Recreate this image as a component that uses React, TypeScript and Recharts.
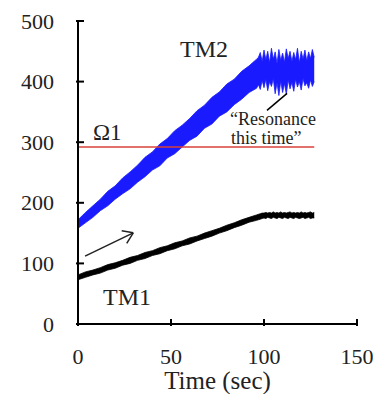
import React from "react";
import {
  ComposedChart,
  Area,
  Line,
  XAxis,
  YAxis,
  ReferenceLine,
} from "recharts";

// time (sec) of each reading
const time = [
  0, 4, 8, 12, 16, 20, 24, 28, 32, 36, 40, 44, 48, 52, 56, 60, 64, 68, 72, 76,
  80, 84, 88, 92, 96, 97, 98, 99, 100, 101, 102, 103, 104, 105, 106, 107, 108,
  109, 110, 111, 112, 113, 114, 115, 116, 117, 118, 119, 120, 121, 122, 123,
  124, 125, 126, 127,
];

// TM2 band (lower / upper edge of the noisy trace)
const tm2Low = [
  158, 167, 176, 187, 195, 206, 215, 223, 234, 243, 254, 261, 274, 281, 292,
  303, 310, 323, 330, 343, 350, 362, 371, 382, 389, 395, 387, 402, 390, 404,
  385, 400, 392, 405, 380, 398, 377, 401, 382, 397, 379, 403, 388, 399, 384,
  404, 391, 400, 386, 405, 393, 398, 389, 403, 392, 400,
];
const tm2High = [
  172, 184, 195, 206, 219, 228, 241, 251, 262, 275, 284, 297, 306, 319, 328,
  339, 352, 361, 374, 383, 396, 404, 417, 426, 437, 440, 448, 433, 452, 436,
  450, 431, 455, 437, 449, 430, 453, 435, 447, 432, 454, 438, 450, 433, 448,
  436, 455, 431, 450, 437, 452, 434, 449, 438, 453, 440,
];

// TM1 band
const tm1Low = [
  73, 77, 81, 84, 89, 92, 97, 100, 105, 108, 113, 116, 121, 124, 129, 132, 137,
  141, 145, 150, 154, 159, 163, 168, 171, 172, 173, 174, 175, 174, 176, 175,
  174, 176, 175, 174, 176, 175, 174, 176, 175, 174, 176, 175, 174, 176, 175,
  174, 175, 176, 174, 175, 176, 174, 175, 175,
];
const tm1High = [
  81, 86, 89, 93, 98, 101, 105, 110, 113, 118, 121, 126, 129, 134, 137, 142,
  145, 150, 154, 158, 163, 167, 172, 176, 180, 181, 182, 183, 183, 184, 183,
  184, 183, 185, 183, 184, 183, 185, 183, 184, 183, 184, 185, 183, 184, 183,
  184, 183, 185, 183, 184, 183, 184, 185, 183, 184,
];

// Omega1 level
const omegaTime = [0, 127];
const omegaValue = [292, 292];

const xTicks = [0, 50, 100, 150];
const yTicks = [0, 100, 200, 300, 400, 500];
const rightTicks = [100, 200, 300, 400];

const data = time.map((t, i) => ({
  t,
  tm2: [tm2Low[i], tm2High[i]],
  tm1: [tm1Low[i], tm1High[i]],
}));
const omegaData = omegaTime.map((t, i) => ({ t, v: omegaValue[i] }));

const FONT = '"Liberation Serif", "Times New Roman", serif';

const LeftTick = (props: any) => {
  const { x, y, payload } = props;
  return (
    <g>
      <text x={x - 22} y={y + 7.5} textAnchor="end" fontSize={22} fontFamily={FONT} fill="#222">
        {payload.value}
      </text>
      <line x1={x} y1={y} x2={x + 8} y2={y} stroke="#000" strokeWidth={2} />
    </g>
  );
};

const BottomTick = (props: any) => {
  const { x, y, payload } = props;
  return (
    <g>
      <text x={x} y={y + 38} textAnchor="middle" fontSize={22} fontFamily={FONT} fill="#222">
        {payload.value}
      </text>
      <line x1={x} y1={y} x2={x} y2={y - 7} stroke="#000" strokeWidth={2} />
    </g>
  );
};

const RightTick = (props: any) => {
  const { x, y } = props;
  return <line x1={x} y1={y} x2={x - 8} y2={y} stroke="#000" strokeWidth={2} />;
};

const ids = { xAxisId: "b", yAxisId: "l" };

export default function App() {
  return (
    <div style={{ position: "absolute", left: 0, top: 0, width: 375, height: 394, background: "#fff" }}>
      <ComposedChart width={375} height={394} data={data} margin={{ top: 21, right: 18, bottom: 0, left: 0 }}>
        <XAxis
          xAxisId="b"
          dataKey="t"
          type="number"
          domain={[0, 150]}
          ticks={xTicks}
          interval={0}
          height={70}
          tickSize={0}
          tickLine={false}
          axisLine={{ stroke: "#000", strokeWidth: 2 }}
          tick={<BottomTick />}
          label={(p: any) => (
            <text
              x={p.viewBox.x + p.viewBox.width / 2}
              y={p.viewBox.y + 65}
              textAnchor="middle"
              fontSize={25}
              fontFamily={FONT}
              fill="#222"
            >
              Time (sec)
            </text>
          )}
        />
        <XAxis
          xAxisId="t"
          orientation="top"
          type="number"
          domain={[0, 150]}
          height={0}
          tick={false}
          tickLine={false}
          axisLine={{ stroke: "#000", strokeWidth: 2 }}
        />
        <YAxis
          yAxisId="l"
          type="number"
          domain={[0, 500]}
          ticks={yTicks}
          interval={0}
          width={78}
          tickSize={0}
          tickLine={false}
          axisLine={{ stroke: "#000", strokeWidth: 2 }}
          tick={<LeftTick />}
        />
        <YAxis
          yAxisId="r"
          orientation="right"
          type="number"
          domain={[0, 500]}
          ticks={rightTicks}
          interval={0}
          width={0}
          tickSize={0}
          tickLine={false}
          axisLine={{ stroke: "#000", strokeWidth: 2 }}
          tick={<RightTick />}
        />

        <Area
          {...ids}
          type="linear"
          dataKey="tm2"
          stroke="#1a1aff"
          strokeWidth={0.8}
          fill="#1a1aff"
          fillOpacity={1}
          dot={false}
          activeDot={false}
          isAnimationActive={false}
        />
        <Area
          {...ids}
          type="linear"
          dataKey="tm1"
          stroke="#000"
          strokeWidth={0.8}
          fill="#000"
          fillOpacity={1}
          dot={false}
          activeDot={false}
          isAnimationActive={false}
        />
        <Line
          {...ids}
          data={omegaData}
          dataKey="v"
          type="linear"
          stroke="#d9413a"
          strokeWidth={1.6}
          dot={false}
          activeDot={false}
          isAnimationActive={false}
        />

        {/* arrow */}
        <ReferenceLine {...ids} segment={[{ x: 3.8, y: 112 }, { x: 29.7, y: 150.4 }]} stroke="#222" strokeWidth={1.5} ifOverflow="visible" />
        <ReferenceLine {...ids} segment={[{ x: 23.5, y: 153.7 }, { x: 29.7, y: 150.4 }]} stroke="#222" strokeWidth={1.5} ifOverflow="visible" />
        <ReferenceLine {...ids} segment={[{ x: 26.2, y: 133 }, { x: 29.7, y: 150.4 }]} stroke="#222" strokeWidth={1.5} ifOverflow="visible" />
        {/* leader to the resonance note */}
        <ReferenceLine {...ids} segment={[{ x: 101.6, y: 352.6 }, { x: 112.4, y: 380.6 }]} stroke="#000" strokeWidth={1.5} ifOverflow="visible" />
      </ComposedChart>

      <svg width={375} height={394} style={{ position: "absolute", left: 0, top: 0, pointerEvents: "none" }}>
        <g fontFamily={FONT} fill="#222">
          <text x={180} y={57} fontSize={24}>TM2</text>
          <text x={93} y={140} fontSize={23}>Ω1</text>
          <text x={103} y={305} fontSize={24}>TM1</text>
          <text x={230} y={125} fontSize={18}>“Resonance</text>
          <text x={231} y={144} fontSize={18}>this time”</text>
        </g>
      </svg>
    </div>
  );
}
